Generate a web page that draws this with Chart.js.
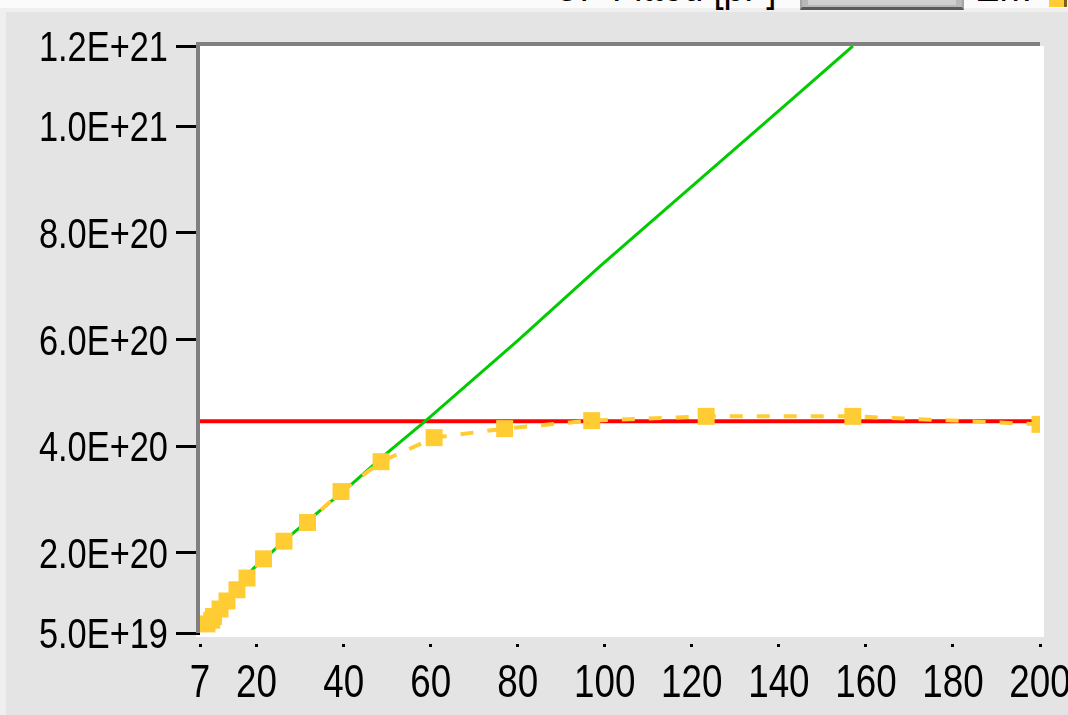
<!DOCTYPE html>
<html>
<head>
<meta charset="utf-8">
<script src="https://cdn.jsdelivr.net/npm/chart.js"></script>
<style>
  html, body { margin: 0; padding: 0; background: #e4e4e4; }
  #wrap { position: relative; width: 1068px; height: 715px; overflow: hidden; background: #e4e4e4; }
  #plot { position: absolute; left: 0; top: 0; }
  /* strip of controls above the graph, only the bottom edge shows */
  #topbar { position: absolute; left: 0; top: 0; width: 1068px; height: 12px; overflow: hidden;
            background: linear-gradient(#fbfbfb 0 8px, #efefef 8px 12px); }
  #topbar span { position: absolute; font-family: 'Liberation Sans', sans-serif; transform: scaleX(0.85);
                 transform-origin: left top; font-size: 43px; line-height: 43px; color: #000; white-space: nowrap; }
  #leftedge { position: absolute; left: 0; top: 12px; width: 6px; height: 703px; background: #efefef; }
  #ctlbox { position: absolute; left: 800px; top: -20px; width: 160px; height: 25px;
            background: #b8b8b8; border: 2px solid #a4a4a4; border-bottom: 3px solid #5a5a5a; }
  #ctlbox div { position: absolute; left: 6px; right: 6px; top: 0; bottom: 2px; background: #cfcfcf; }
  #swatch { position: absolute; left: 1049px; top: -10px; width: 15px; height: 17px;
            background: #ffcc33; border-right: 3px solid #7a6020; }
</style>
</head>
<body>
<div id="wrap">
  <canvas id="plot" width="1068" height="715"></canvas>
  <div id="leftedge"></div>
  <div id="topbar">
    <span style="left:553px; top:-35px;">CF Fitted [pF]</span>
    <div id="ctlbox"><div></div></div>
    <span style="left:975px; top:-35px;">Err.</span>
    <div id="swatch"></div>
  </div>
</div>
<script>
// measured points (markers, dashed)
const measX = [8.6, 9.7, 10.1, 11.6, 13.2, 15.5, 17.8, 21.6, 26.3, 31.7, 39.4, 48.6, 60.8, 77.0, 97.0, 123.3, 157.0, 200];
const measY = [6.7e19, 7.4e19, 8.1e19, 9.5e19, 1.10e20, 1.31e20, 1.53e20, 1.89e20, 2.22e20, 2.57e20, 3.15e20,
               3.71e20, 4.16e20, 4.33e20, 4.48e20, 4.56e20, 4.56e20, 4.41e20];

// initial slope line (green)
const slopeX = [7, 19.3, 28.4, 41.6, 49.8, 58.9, 80, 99, 120, 142, 157];
const slopeY = [6.2e19, 1.71e20, 2.37e20, 3.27e20, 3.86e20, 4.48e20, 5.98e20, 7.38e20, 8.87e20, 1.043e21, 1.15e21];

// saturation level (red)
const satX = [7, 200];
const satY = [4.47e20, 4.47e20];

// axes
const xTicks = [7, 20, 40, 60, 80, 100, 120, 140, 160, 180, 200];
const yTicks = [5e19, 2e20, 4e20, 6e20, 8e20, 1e21, 1.15e21];
const yTickLabels = ['5.0E+19', '2.0E+20', '4.0E+20', '6.0E+20', '8.0E+20', '1.0E+21', '1.2E+21'];

const FONT = "'Liberation Sans', sans-serif";
const SQUEEZE = 0.8;   // narrow look of the axis digits

const toPoints = (xs, ys) => xs.map((x, i) => ({ x: x, y: ys[i] }));

function squeezedText(ctx, text, x, y, align) {
  ctx.save();
  ctx.translate(x, y);
  ctx.scale(SQUEEZE, 1);
  ctx.textAlign = align;
  ctx.textBaseline = 'alphabetic';
  ctx.fillText(text, 0, 0);
  ctx.restore();
}

// white plot field with grey frame on the top and left edges, plus tick labels
const frame = {
  id: 'frame',
  beforeDraw(chart) {
    const a = chart.chartArea, ctx = chart.ctx;
    ctx.save();
    ctx.fillStyle = '#ffffff';
    ctx.fillRect(a.left - 4, a.top, a.right - a.left + 8, a.bottom - a.top + 4);
    ctx.restore();
  },
  afterDatasetsDraw(chart) {
    const a = chart.chartArea, ctx = chart.ctx;
    ctx.save();
    ctx.fillStyle = '#808080';
    ctx.fillRect(a.left - 4, a.top - 4, a.right - a.left + 4, 4);
    ctx.fillRect(a.left - 4, a.top - 4, 4, a.bottom - a.top + 4);
    ctx.restore();
  },
  afterDraw(chart) {
    const ctx = chart.ctx, xs = chart.scales.x, ys = chart.scales.y;
    ctx.save();
    ctx.fillStyle = '#000000';
    ctx.font = '43px ' + FONT;
    ys.ticks.forEach((t, i) => {
      squeezedText(ctx, yTickLabels[i], 168, ys.getPixelForValue(t.value) + 15, 'right');
    });
    ctx.font = '46px ' + FONT;
    xs.ticks.forEach((t) => {
      squeezedText(ctx, String(t.value), xs.getPixelForValue(t.value), 697, 'center');
    });
    ctx.restore();
  }
};

new Chart(document.getElementById('plot'), {
  type: 'line',
  data: {
    datasets: [
      {
        data: toPoints(measX, measY),
        borderColor: '#ffcc33',
        borderWidth: 4,
        borderDash: [13, 14],
        backgroundColor: '#ffcc33',
        pointStyle: 'rect',
        pointRadius: 12,
        pointBorderWidth: 0,
        pointBackgroundColor: '#ffcc33',
        clip: 0,
        order: 1
      },
      {
        data: toPoints(slopeX, slopeY),
        borderColor: '#00cc00',
        borderWidth: 3,
        pointRadius: 0,
        clip: 0,
        order: 2
      },
      {
        data: toPoints(satX, satY),
        borderColor: '#ff0000',
        borderWidth: 4,
        pointRadius: 0,
        clip: 0,
        order: 3
      }
    ]
  },
  options: {
    responsive: false,
    animation: false,
    devicePixelRatio: 1,
    layout: { padding: { top: 46, right: 28, left: 0, bottom: 0 } },
    plugins: { legend: { display: false }, tooltip: { enabled: false } },
    scales: {
      x: {
        type: 'linear',
        min: 7,
        max: 200,
        border: { display: false },
        grid: {
          drawOnChartArea: false,
          tickLength: 14,
          tickColor: '#000000',
          lineWidth: 3,
          tickBorderDash: [0, 11, 3, 60]
        },
        ticks: { color: 'rgba(0,0,0,0)', font: { family: FONT, size: 46 }, autoSkip: false, maxRotation: 0 },
        afterBuildTicks: (scale) => { scale.ticks = xTicks.map(v => ({ value: v })); },
        afterFit: (scale) => {
          scale.height = 82;
          scale.paddingLeft = 0;
          scale.paddingRight = 0;
        }
      },
      y: {
        type: 'linear',
        min: 5e19,
        max: 1.15e21,
        border: { display: false },
        grid: {
          drawOnChartArea: false,
          tickLength: 24,
          tickColor: '#000000',
          lineWidth: 3
        },
        ticks: {
          color: 'rgba(0,0,0,0)',
          font: { family: FONT, size: 43 },
          autoSkip: false,
          callback: (v, i) => yTickLabels[i]
        },
        afterBuildTicks: (scale) => { scale.ticks = yTicks.map(v => ({ value: v })); },
        afterFit: (scale) => {
          scale.width = 200;
          scale.paddingTop = 0;
          scale.paddingBottom = 0;
        }
      }
    }
  },
  plugins: [frame]
});
</script>
</body>
</html>
